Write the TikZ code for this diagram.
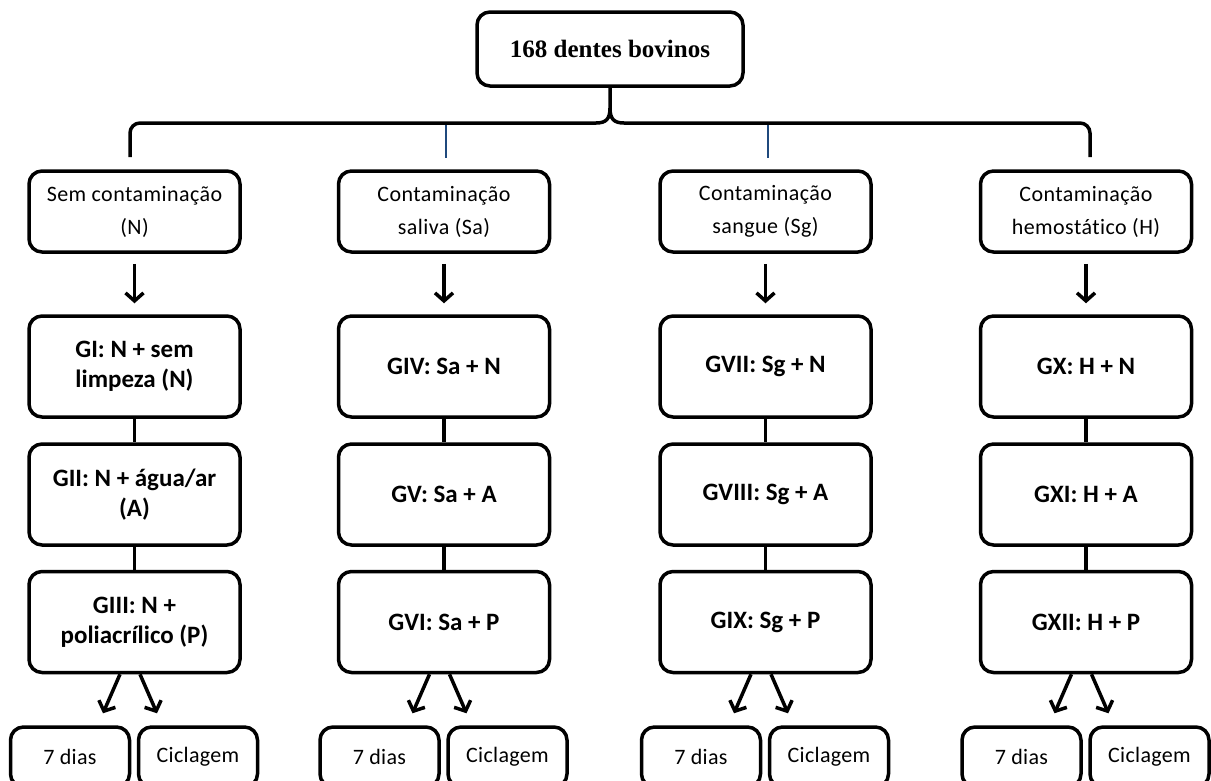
\documentclass[tikz,border=0pt]{standalone}
\usepackage{fontspec}
\usetikzlibrary{arrows.meta,calc}
\newfontfamily\carl[LetterSpace=2,Ligatures={NoCommon}]{Carlito}
\newfontfamily\carlc[LetterSpace=1.5,Ligatures={NoCommon}]{Carlito}
\newfontfamily\carlb[Ligatures={NoCommon}]{Carlito}
\newfontfamily\tms{Liberation Serif}
\definecolor{tickblue}{HTML}{1F497D}
\begin{document}
\begin{tikzpicture}[x=1pt,y=-1pt,
  box/.style={draw, line width=3.5pt, rounded corners=13pt, inner sep=0pt, align=center},
  topbox/.style={box, minimum width=266pt, minimum height=74pt, font=\tms\bfseries\fontsize{25}{30}\selectfont},
  cont/.style={box, minimum width=211pt, minimum height=81pt, font=\carl\fontsize{22}{33}\selectfont},
  grp/.style={box, minimum width=211pt, minimum height=101pt, font=\carlb\bfseries\fontsize{25}{30}\selectfont},
  leaf/.style={box, minimum width=119pt, minimum height=60pt, font=\carlc\fontsize{22}{24}\selectfont},
  ln/.style={line width=3.5pt},
  arr/.style={line width=3.5pt, -{Straight Barb[length=8pt,width=18pt]}},
  tick/.style={line width=2.5pt, draw=tickblue}]
\path[use as bounding box, fill=white] (0,0) rectangle (1211,780);

\node[topbox] (top) at (610,49) {168 dentes bovinos};

% brace
\draw[ln, rounded corners=10pt] (130,157) -- (130,123) -- (596,123);
\draw[ln] (596,123) .. controls (606,123) and (610,119) .. (610,108) -- (top.south);
\draw[ln, rounded corners=10pt] (1090,157) -- (1090,123) -- (624,123);
\draw[ln] (624,123) .. controls (614,123) and (610,119) .. (610,108);
\draw[tick] (446,125) -- (446,158);
\draw[tick] (768,125) -- (768,158);

% column 1
\node[cont] (s1) at (134.5,211.5) {Sem contaminação\\(N)};
\node[grp] (a1) at (134.5,366.5) {GI: N + sem\\limpeza (N)};
\node[grp] (b1) at (134.5,494.5) {GII: N + água/ar\\(A)};
\node[grp] (c1) at (134.5,622) {GIII: N +\\poliacrílico (P)};
\node[leaf] (d1) at (70,757) {7 dias};
\node[leaf] (e1) at (198,757) {Ciclagem};

% column 2
\node[cont] (s2) at (444,211.5) {Contaminação\\saliva (Sa)};
\node[grp] (a2) at (444,366.5) {GIV: Sa + N};
\node[grp] (b2) at (444,494.5) {GV: Sa + A};
\node[grp] (c2) at (444,622) {GVI: Sa + P};
\node[leaf] (d2) at (379.5,757) {7 dias};
\node[leaf] (e2) at (507.5,757) {Ciclagem};

% column 3
\node[cont] (s3) at (765.5,211.5) {Contaminação\\sangue (Sg)};
\node[grp] (a3) at (765.5,366.5) {GVII: Sg + N};
\node[grp] (b3) at (765.5,494.5) {GVIII: Sg + A};
\node[grp] (c3) at (765.5,622) {GIX: Sg + P};
\node[leaf] (d3) at (701,757) {7 dias};
\node[leaf] (e3) at (829,757) {Ciclagem};

% column 4
\node[cont] (s4) at (1086,211.5) {Contaminação\\hemostático (H)};
\node[grp] (a4) at (1086,366.5) {GX: H + N};
\node[grp] (b4) at (1086,494.5) {GXI: H + A};
\node[grp] (c4) at (1086,622) {GXII: H + P};
\node[leaf] (d4) at (1021.5,757) {7 dias};
\node[leaf] (e4) at (1149.5,757) {Ciclagem};

\foreach \k in {1,2,3,4}{
  \draw[arr, shorten <=10pt, shorten >=11pt] (s\k.south) -- (a\k.north);
  \draw[ln] (a\k.south) -- (b\k.north);
  \draw[ln] (b\k.south) -- (c\k.north);
  \draw[arr] ([xshift=-14.5pt]c\k.south) -- ([shift={(33,-12)}]d\k.north);
  \draw[arr] ([xshift=5.5pt]c\k.south) -- ([shift={(-41,-12)}]e\k.north);
}
\end{tikzpicture}
\end{document}
